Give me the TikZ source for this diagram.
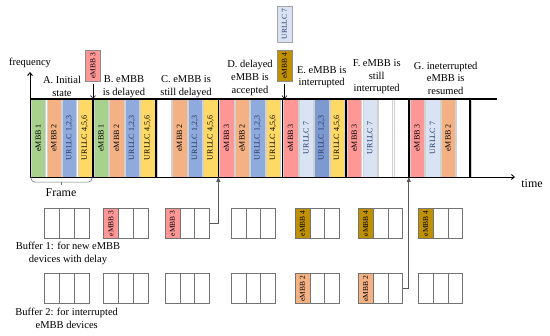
\documentclass[tikz,border=0pt]{standalone}
\usepackage{fontspec}
\setmainfont{Liberation Serif}
\usetikzlibrary{arrows.meta, positioning, calc}
\definecolor{fmGreen}{HTML}{A9D18E}
\definecolor{fmOrange}{HTML}{F4B183}
\definecolor{fmBlue}{HTML}{8FAADC}
\definecolor{fmBlueDk}{HTML}{7D99D0}
\definecolor{fmYellow}{HTML}{FFD966}
\definecolor{fmPink}{HTML}{FF9797}
\definecolor{fmPale}{HTML}{DAE3F3}
\definecolor{fmGold}{HTML}{BF9000}
\definecolor{fmGray}{HTML}{595959}
\definecolor{fmNavy}{HTML}{1F3864}

\begin{document}
\begin{tikzpicture}[x=1pt, y=-1pt, >={Straight Barb[length=3pt, width=5pt]}]
  \tikzset{
    lbl/.style={font=\fontsize{10.5}{12.6}\selectfont, align=center, inner sep=0pt},
    kind/.style 2 args={fill=#1, node contents={\rotatebox{90}{#2}}},
    slot/.style={minimum width=14.3pt, minimum height=78pt, inner sep=0pt,
                 draw=black!18, line width=0.3pt, font=\fontsize{8}{9}\selectfont},
    cell/.style={minimum width=14.8pt, minimum height=30pt, inner sep=0pt,
                 draw=black!55, line width=0.6pt, font=\fontsize{7.5}{8}\selectfont},
    inbox/.style={minimum width=15pt, minimum height=30.3pt, inner sep=0pt,
                  draw=black!45, line width=0.5pt, font=\fontsize{7.5}{8}\selectfont},
    e1/.style={kind={fmGreen}{eMBB 1}},
    e2/.style={kind={fmOrange}{eMBB 2}},
    e3/.style={kind={fmPink}{eMBB 3}},
    e4/.style={kind={fmGold}{eMBB 4}},
    u123/.style={text=fmNavy, kind={fmBlue}{URLLC 1,2,3}},
    u123d/.style={text=fmNavy, kind={fmBlueDk}{URLLC 1,2,3}},
    u456/.style={kind={fmYellow}{URLLC 4,5,6}},
    u7/.style={text=fmNavy, kind={fmPale}{URLLC 7}},
    free/.style={kind={white}{}},
    sep/.style={line width=1.6pt},
    conn/.style={draw=fmGray, line width=0.8pt, -{Triangle[length=5pt, width=4pt]}}}
  \useasboundingbox (0,0) rectangle (550,336);
  % frames: four slots each
  \foreach \f/\x/\sa/\sb/\sc/\sd in {A/30/e1/e2/u123/u456, B/92.7/e1/e2/u123/u456,
      C/155.7/free/e2/u123/u456, D/218.3/e3/e2/u123/u456, E/282.3/e3/u7/u123d/u456,
      F/346/e3/u7/free/free, G/408.8/e3/u7/e2/free}{
    \node[slot, name=\f1, at={(\x+8.3,138)}, \sa];
    \node[slot, name=\f2, at={(\x+23.8,138)}, \sb];
    \node[slot, name=\f3, at={(\x+39.3,138)}, \sc];
    \node[slot, name=\f4, at={(\x+54.8,138)}, \sd];}
  \draw[line width=1.3pt] (30,99) -- (497,99);
  \foreach \f/\x in {B/92.7, C/155.7, D/218.3, E/282.3, F/346, G/408.8, H/470}{
    \draw[sep] (\x,99) coordinate (t\f) -- (\x,178);
    \coordinate (s\f) at (\x,177);}
  % axes
  \coordinate (o) at (30,177);
  \coordinate (tEnd) at (515,177);
  \node[lbl, anchor=south, outer sep=4pt] (freq) at (30,72) {frequency};
  \draw[->, line width=0.9pt] (o) -- (freq.south);
  \draw[->, line width=0.9pt] (o) -- (tEnd);
  \node[font=\fontsize{12}{14}\selectfont, inner sep=0pt] (time) at (532,184) {time};
  % frame bracket
  \coordinate (fm) at ($(A1.south west)!0.5!(A4.south east)$);
  \draw[draw=black!55, line width=0.6pt, rounded corners=4pt]
    (A1.south west) -- ++(0,5) -- ($(A4.south east)+(0,5)$) -- (A4.south east);
  \draw[draw=black!55, line width=0.6pt] ($(fm)+(0,5)$) -- ++(0,3);
  \node[font=\fontsize{12}{14}\selectfont, inner sep=0pt] (frame) at (61,193) {Frame};
  % captions
  \node[lbl] (capA) at (62,86.5) {A. Initial\\state};
  \node[lbl] (capB) at (124,86.5) {B. eMBB\\is delayed};
  \node[lbl] (capC) at (186,86.5) {C. eMBB is\\still delayed};
  \node[lbl] (capD) at (250,78) {D. delayed\\eMBB is\\accepted};
  \node[lbl] (capE) at (321.7,77.2) {E. eMBB is\\interrupted};
  \node[lbl] (capF) at (376.7,76.7) {F. eMBB is\\still\\interrupted};
  \node[lbl] (capG) at (445.7,78.3) {G. ineterrupted\\eMBB is\\resumed};
  % arriving requests
  \node[inbox, name=n3, at={(93,65.8)}, e3];
  \node[inbox, name=n4, at={(284.5,65.8)}, e4];
  \node[inbox, minimum height=36.7pt, draw=black!35, name=n7, at={(284.5,24.3)}, u7];
  \draw[->, line width=0.6pt] ($(n3.south)+(0,3)$) -- (n3.south |- tB);
  \draw[->, line width=0.6pt] ($(n4.south)+(0,3)$) -- (n4.south |- tE);
  % buffers (nb: new eMBB, ib: interrupted eMBB)
  \foreach \b/\x/\ra/\rb in {A/44.5/free/free, B/103.5/e3/free, C/165/e3/free,
      D/231/free/free, E/295/e4/e2, F/358.3/e4/e2, G/418.3/e4/free}{
    \node[cell, name=nb\b1, at={(\x+7.4,223.3)}, \ra];
    \node[cell, name=nb\b2, at={(\x+22.2,223.3)}, free];
    \node[cell, name=nb\b3, at={(\x+37,223.3)}, free];
    \node[cell, name=ib\b1, at={(\x+7.4,288.7)}, \rb];
    \node[cell, name=ib\b2, at={(\x+22.2,288.7)}, free];
    \node[cell, name=ib\b3, at={(\x+37,288.7)}, free];}
  \node[lbl] (buf1) at (68,253.3) {Buffer 1: for new eMBB\\devices with delay};
  \node[lbl] (buf2) at (66.7,318.3) {Buffer 2: for interrupted\\eMBB devices};
  \draw[conn] (nbC3.east) -| (sD);
  \draw[conn] (ibF3.east) -| (sG);
\end{tikzpicture}
\end{document}
